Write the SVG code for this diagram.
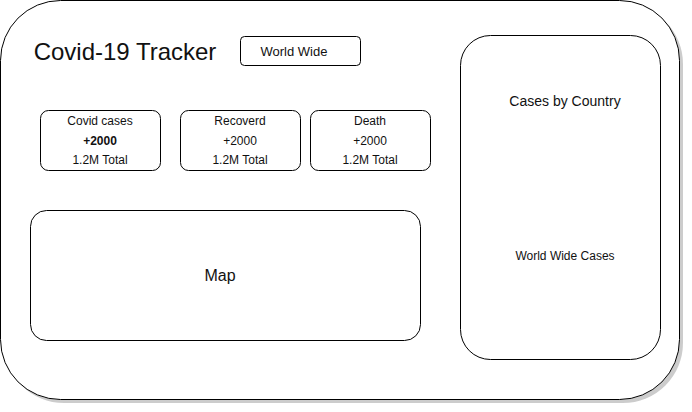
<svg xmlns="http://www.w3.org/2000/svg" width="692" height="412" viewBox="0 0 692 412">
<style>
.b{fill:#fff;stroke:#000;stroke-width:1}
text{font-family:"Liberation Sans",Arial,sans-serif;fill:#111;text-anchor:middle;dominant-baseline:central}
.s{font-size:12px}
</style>
<rect width="692" height="412" fill="#fff"/>
<g id="frame">
<rect x="4" y="4" width="679" height="399" rx="60" fill="#000" opacity="0.2"/>
<rect class="b" x="0.5" y="0.5" width="679" height="399" rx="60"/>
</g>
<g id="title"><text x="125" y="51" style="font-size:24px">Covid-19 Tracker</text></g>
<g id="worldwide">
<rect class="b" x="240.5" y="36.5" width="120" height="29" rx="4"/>
<text x="294" y="51" style="font-size:13px">World Wide</text>
</g>
<g id="covid">
<rect class="b" x="40.5" y="110.5" width="120" height="60" rx="8"/>
<text class="s" x="100" y="121">Covid cases</text>
<text class="s" x="100" y="141" font-weight="bold">+2000</text>
<text class="s" x="100" y="160">1.2M Total</text>
</g>
<g id="recovered">
<rect class="b" x="180.5" y="110.5" width="120" height="60" rx="8"/>
<text class="s" x="240" y="121">Recoverd</text>
<text class="s" x="240" y="141">+2000</text>
<text class="s" x="240" y="160">1.2M Total</text>
</g>
<g id="death">
<rect class="b" x="310.5" y="110.5" width="120" height="60" rx="8"/>
<text class="s" x="370" y="121">Death</text>
<text class="s" x="370" y="141">+2000</text>
<text class="s" x="370" y="160">1.2M Total</text>
</g>
<g id="map">
<rect class="b" x="30.5" y="210.5" width="390" height="130" rx="16"/>
<text x="220" y="275" style="font-size:16px">Map</text>
</g>
<g id="country">
<rect class="b" x="460.5" y="35.5" width="200" height="324" rx="30"/>
<text x="565" y="101" style="font-size:14px">Cases by Country</text>
<text class="s" x="565" y="256">World Wide Cases</text>
</g>
<g id="connectors"/>
</svg>
